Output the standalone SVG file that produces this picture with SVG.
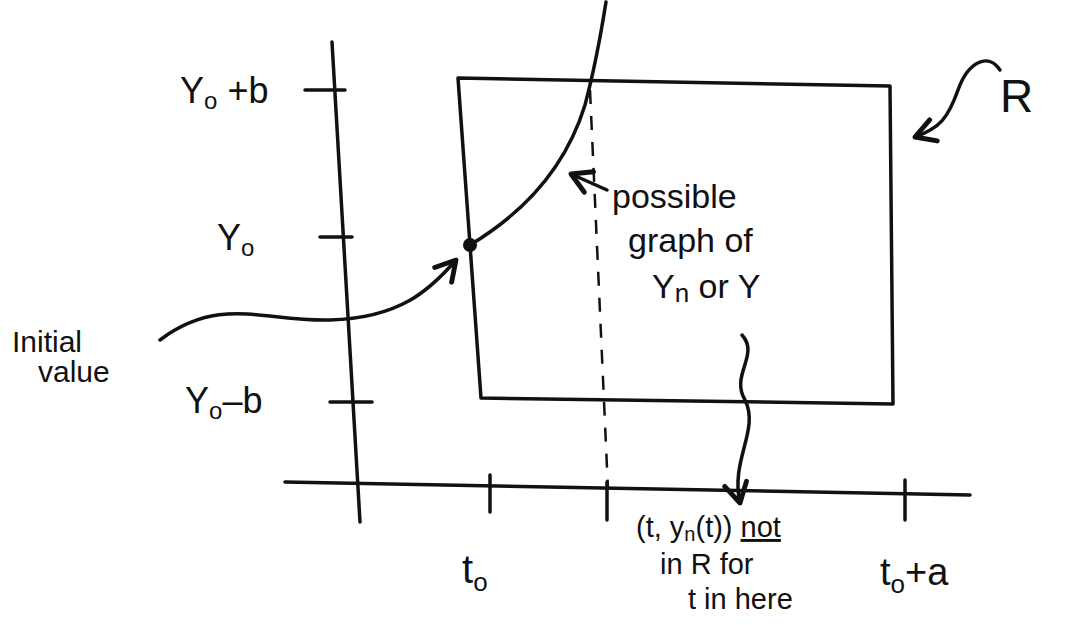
<svg xmlns="http://www.w3.org/2000/svg" width="1065" height="625" viewBox="0 0 1065 625">
<defs>
<style>
.ln{fill:none;stroke:#111;stroke-width:3.5;stroke-linecap:round;stroke-linejoin:round}
.ds{fill:none;stroke:#111;stroke-width:2.5;stroke-dasharray:14 12}
.t{font-family:"Liberation Sans",Arial,sans-serif;fill:#111}
</style>
<marker id="ah" viewBox="0 0 20 20" refX="16" refY="10" markerWidth="8" markerHeight="8" markerUnits="strokeWidth" orient="auto">
<path d="M2,2 L16,10 L2,18" fill="none" stroke="#111" stroke-width="3.5" stroke-linecap="round" stroke-linejoin="round"/>
</marker>
</defs>
<rect width="1065" height="625" fill="#fff"/>
<g id="axes">
<path class="ln" d="M332,42 L360,522"/>
<path class="ln" d="M285,482 L970,495"/>
<path class="ln" d="M305,90 L345,90"/>
<path class="ln" d="M320,237 L352,237"/>
<path class="ln" d="M330,402 L372,402"/>
<path class="ln" d="M490,475 L490,512"/>
<path class="ln" d="M607,482 L607,520"/>
<path class="ln" d="M905,480 L905,520"/>
</g>
<g id="rect-R">
<path class="ln" d="M458,78 L890,86 L893,404 L481,398 Z"/>
</g>
<g id="curve">
<path class="ln" d="M470,245 C520,215 565,170 585,105 C593,75 600,40 606,2"/>
<circle cx="470" cy="245" r="7" fill="#111"/>
</g>
<g id="dashed">
<path class="ds" d="M590,90 L608,490"/>
</g>
<g id="connectors">
<path class="ln" d="M160,340 C220,295 265,322 330,320 C400,318 430,290 456,260" marker-end="url(#ah)"/>
<path class="ln" d="M742,335 C760,355 730,375 745,400 C760,430 730,460 740,503" marker-end="url(#ah)"/>
<path class="ln" d="M1000,70 C988,52 968,62 958,90 C948,118 940,128 915,137" marker-end="url(#ah)"/>
<path class="ln" d="M607,190 L571,174" marker-end="url(#ah)"/>
</g>
<g id="labels">
<text class="t" x="180" y="103" font-size="36">Y<tspan font-size="24" dy="6">o</tspan><tspan dy="-6"> +b</tspan></text>
<text class="t" x="217" y="250" font-size="36">Y<tspan font-size="24" dy="6">o</tspan></text>
<text class="t" x="185" y="413" font-size="36">Y<tspan font-size="24" dy="6">o</tspan><tspan dy="-6">–b</tspan></text>
<text class="t" x="12" y="352" font-size="30">Initial</text>
<text class="t" x="38" y="382" font-size="30">value</text>
<text class="t" x="612" y="208" font-size="34">possible</text>
<text class="t" x="628" y="252" font-size="34">graph of</text>
<text class="t" x="652" y="298" font-size="34">Y<tspan font-size="26" dy="4">n</tspan><tspan dy="-4"> or Y</tspan></text>
<text class="t" x="636" y="537" font-size="29">(t, y<tspan font-size="20" dy="4">n</tspan><tspan dy="-4">(t))</tspan> <tspan text-decoration="underline">not</tspan></text>
<text class="t" x="660" y="574" font-size="29">in R for</text>
<text class="t" x="688" y="609" font-size="29">t in here</text>
<text class="t" x="462" y="583" font-size="40">t<tspan font-size="26" dy="8">o</tspan></text>
<text class="t" x="880" y="585" font-size="38">t<tspan font-size="26" dy="8">o</tspan><tspan dy="-8">+a</tspan></text>
<text class="t" x="1000" y="112" font-size="46">R</text>
</g>
</svg>
